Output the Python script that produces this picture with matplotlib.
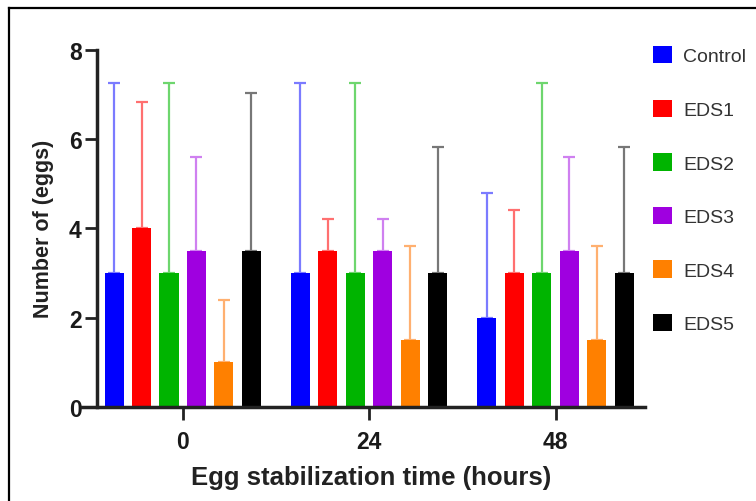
import numpy as np
import matplotlib.pyplot as plt
from matplotlib.patches import Patch
from matplotlib.lines import Line2D

plt.rcParams['font.family'] = ['Liberation Sans', 'DejaVu Sans']

# datos
tiempos = ['0', '24', '48']
series = ['Control', 'EDS1', 'EDS2', 'EDS3', 'EDS4', 'EDS5']
medias = [
    [3.0, 3.0, 2.0],   # Control
    [4.0, 3.5, 3.0],   # EDS1
    [3.0, 3.0, 3.0],   # EDS2
    [3.5, 3.5, 3.5],   # EDS3
    [1.0, 1.5, 1.5],   # EDS4
    [3.5, 3.0, 3.0],   # EDS5
]
errores = [
    [4.25, 4.25, 2.8],
    [2.83, 0.7, 1.4],
    [4.25, 4.25, 4.25],
    [2.1, 0.7, 2.1],
    [1.4, 2.1, 2.1],
    [3.52, 2.83, 2.83],
]

colores = ['#0000ff', '#ff0000', '#00b400', '#9f00e0', '#ff8000', '#000000']
colores_err = ['#7b7bff', '#ff7070', '#6ed66e', '#cf80f0', '#ffb070', '#777777']

fig = plt.figure(figsize=(7.56, 5.02), dpi=100)
ax = fig.add_axes([97 / 756, 94 / 502, 548 / 756, 357.3 / 502])

x = np.arange(len(tiempos))
paso = 0.1475
ancho = 0.102
for i, nombre in enumerate(series):
    pos = x + (i - 2.5) * paso
    ax.errorbar(pos, medias[i], yerr=[np.zeros(len(tiempos)), errores[i]],
                fmt='none', ecolor=colores_err[i], elinewidth=1.6,
                capsize=4, capthick=1.6, zorder=1)
    ax.bar(pos, medias[i], width=ancho, color=colores[i], zorder=2)

ax.set_xlim(-0.46, 2.48)
ax.set_ylim(0, 8)
ax.set_yticks([0, 2, 4, 6, 8])
ax.set_xticks(x)
ax.set_xticklabels(tiempos)

for lado in ['top', 'right']:
    ax.spines[lado].set_visible(False)
for lado in ['left', 'bottom']:
    ax.spines[lado].set_linewidth(2.5)
    ax.spines[lado].set_color('#222222')
ax.spines['bottom'].set_bounds(-0.54, 2.48)
ax.tick_params(axis='both', width=2.0, length=9, color='#222222',
               labelsize=16.5, labelcolor='#1a1a1a')
ax.tick_params(axis='y', pad=2)
ax.tick_params(axis='x', pad=7.5)
for t in ax.get_xticklabels() + ax.get_yticklabels():
    t.set_fontweight('bold')

ax.set_ylabel('Number of (eggs)', fontsize=15.5, fontweight='bold', color='#222222', labelpad=11)
ax.set_xlabel('Egg stabilization time (hours)', fontsize=18.5, fontweight='bold', color='#222222', labelpad=9)

handles = [Patch(facecolor=c, edgecolor='none') for c in colores]
fig.legend(handles, series, loc='upper left', bbox_to_anchor=(653 / 756, 1 - 47 / 502),
           frameon=False, fontsize=14, handlelength=0.98, handleheight=1.0,
           handletextpad=0.57, labelspacing=1.76, labelcolor='#333333',
           borderaxespad=0, borderpad=0)

# marco exterior
fig.add_artist(Line2D([9 / 756, 1], [1 - 9 / 502, 1 - 9 / 502], color='black', lw=1.6))
fig.add_artist(Line2D([9 / 756, 9 / 756], [0, 1 - 9 / 502], color='black', lw=1.6))

fig.savefig('out.png', dpi=100)
